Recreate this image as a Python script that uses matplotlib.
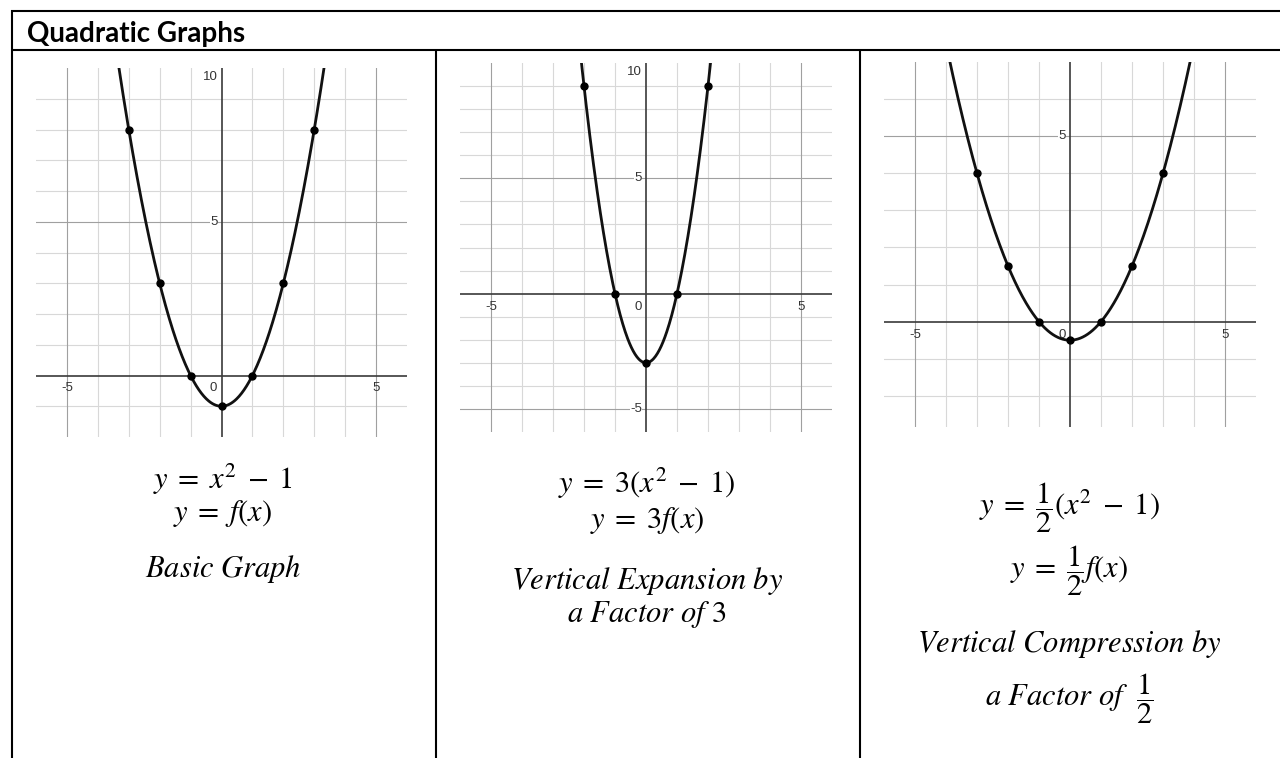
import numpy as np
import matplotlib
matplotlib.use("Agg")
import matplotlib.pyplot as plt

plt.rcParams["mathtext.fontset"] = "stix"

# Marked points on each parabola
basic_x = [-3, -2, -1, 0, 1, 2, 3]
basic_y = [8, 3, 0, -1, 0, 3, 8]
expand_x = [-2, -1, 0, 1, 2]
expand_y = [9, 0, -3, 0, 9]
compress_x = [-3, -2, -1, 0, 1, 2, 3]
compress_y = [4, 1.5, 0, -0.5, 0, 1.5, 4]

# Axis windows of the three graphs
x_windows = [(-6, 6), (-6, 6), (-6, 6)]
y_windows = [(-2, 10), (-6, 10), (-2.84, 7)]

# Number labels shown on each graph
x_tick_labels = [["-5", "0", "5"], ["-5", "0", "5"], ["-5", "0", "5"]]
x_tick_values = [[-5, 0, 5], [-5, 0, 5], [-5, 0, 5]]
y_tick_labels = [["5", "10"], ["-5", "5", "10"], ["5"]]
y_tick_values = [[5, 10], [-5, 5, 10], [5]]

title = "Quadratic Graphs"
captions = [
    [r"$y\;=\;x^2\;-\;1$", r"$y\;=\;f(x)$", r"$Basic\ Graph$"],
    [r"$y\;=\;3(x^2\;-\;1)$", r"$y\;=\;3f(x)$", r"$Vertical\ Expansion\ by$", r"$a\ Factor\ of\ 3$"],
    [r"$y\;=\;\dfrac{1}{2}(x^2\;-\;1)$", r"$y\;=\;\dfrac{1}{2}f(x)$",
     r"$Vertical\ Compression\ by$", r"$a\ Factor\ of\ \ \dfrac{1}{2}$"],
]
caption_rows = [[489, 521, 577], [493, 528, 589, 622], [515, 578, 652, 706]]
col_centers = [223, 647, 1069]

W, H = 1280, 758
fig = plt.figure(figsize=(W / 100, H / 100), dpi=100)

# background: table lines and text, in pixel units
bg = fig.add_axes([0, 0, 1, 1])
bg.set_xlim(0, W)
bg.set_ylim(H, 0)
bg.axis("off")
lw_table = 1.5
bg.plot([11, W], [10.5, 10.5], color="black", lw=lw_table, solid_capstyle="butt")
bg.plot([11, W], [49.5, 49.5], color="black", lw=lw_table, solid_capstyle="butt")
bg.plot([12, 12], [10, H], color="black", lw=lw_table, solid_capstyle="butt")
bg.plot([435.5, 435.5], [49.5, H], color="black", lw=lw_table, solid_capstyle="butt")
bg.plot([859.5, 859.5], [49.5, H], color="black", lw=lw_table, solid_capstyle="butt")
bg.text(27, 42, title, fontsize=20, fontweight="bold", family="Lato",
        ha="left", va="baseline", color="black")

for cx, lines, rows in zip(col_centers, captions, caption_rows):
    for s, yy in zip(lines, rows):
        bg.text(cx, yy, s, fontsize=22, ha="center", va="baseline", color="black")

# graph panels (pixel boxes: left, right, top, bottom)
boxes = [(36, 407, 68, 437), (460, 832, 63, 432), (884, 1256, 62, 427)]
points = [(basic_x, basic_y), (expand_x, expand_y), (compress_x, compress_y)]

for i, (l, r, t, b) in enumerate(boxes):
    ax = fig.add_axes([l / W, 1 - b / H, (r - l) / W, (b - t) / H])
    x0, x1 = x_windows[i]
    y0, y1 = y_windows[i]
    ax.set_xlim(x0, x1)
    ax.set_ylim(y0, y1)
    for sp in ax.spines.values():
        sp.set_visible(False)
    ax.set_xticks([])
    ax.set_yticks([])
    ax.patch.set_alpha(0)

    # grid: light every unit, darker every 5, dark axes
    for v in range(int(np.ceil(x0)), int(np.floor(x1)) + 1):
        if v in (x0, x1):
            continue
        if v == 0:
            ax.axvline(0, color="#3a3a3a", lw=1.2, zorder=2)
        elif v % 5 == 0:
            ax.axvline(v, color="#a0a0a0", lw=0.8, zorder=1)
        else:
            ax.axvline(v, color="#d8d8d8", lw=0.8, zorder=0)
    for v in range(int(np.ceil(y0)), int(np.floor(y1)) + 1):
        if v in (y0, y1):
            continue
        if v == 0:
            ax.axhline(0, color="#3a3a3a", lw=1.2, zorder=2)
        elif v % 5 == 0:
            ax.axhline(v, color="#a0a0a0", lw=0.8, zorder=1)
        else:
            ax.axhline(v, color="#d8d8d8", lw=0.8, zorder=0)

    # curve through the marked points
    px, py = points[i]
    coef = np.polyfit(px, py, 2)
    xs = np.linspace(x0, x1, 600)
    ax.plot(xs, np.polyval(coef, xs), color="#111111", lw=2.0, zorder=4)
    ax.plot(px, py, "o", color="black", ms=5, zorder=5)

    # number labels
    lab = dict(fontsize=9.5, family="Liberation Sans", color="#333333", zorder=3)
    for s, v in zip(x_tick_labels[i], x_tick_values[i]):
        if v == 0:
            ax.annotate(s, (0, 0), xytext=(-3, -5), textcoords="offset points",
                        ha="right", va="top", **lab)
        else:
            ax.annotate(s, (v, 0), xytext=(0, -5), textcoords="offset points",
                        ha="center", va="top", **lab)
    for s, v in zip(y_tick_labels[i], y_tick_values[i]):
        va = "top" if v >= y1 else "center"
        ax.annotate(s, (0, v), xytext=(-3, -2 if va == "top" else 0),
                    textcoords="offset points", ha="right", va=va,
                    bbox=dict(fc="white", ec="none", pad=0.3), **lab)

fig.savefig("out.png", dpi=100)
